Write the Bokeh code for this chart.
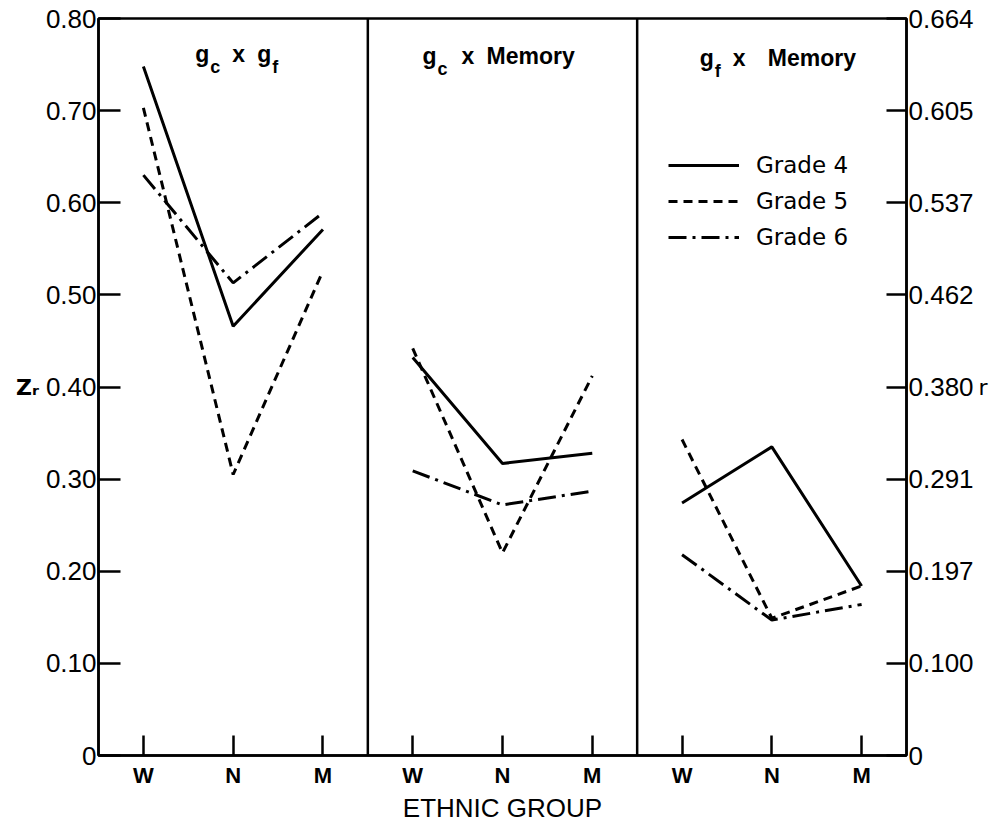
from bokeh.plotting import figure
from bokeh.models import (Range1d, LinearAxis, FixedTicker, Span, Legend,
                          LegendItem, ColumnDataSource)
from bokeh.core.properties import value
from bokeh.embed import file_html
from bokeh.resources import INLINE

# ---------------- data ----------------
groups = ["W", "N", "M"]
panels = ["gc x gf", "gc x Memory", "gf x Memory"]
grades = ["Grade 4", "Grade 5", "Grade 6"]

# Z_r values, order W, N, M
grade4_gc_gf = [0.748, 0.466, 0.571]
grade5_gc_gf = [0.703, 0.305, 0.526]
grade6_gc_gf = [0.630, 0.513, 0.589]

grade4_gc_mem = [0.432, 0.317, 0.328]
grade5_gc_mem = [0.442, 0.220, 0.412]
grade6_gc_mem = [0.309, 0.272, 0.287]

grade4_gf_mem = [0.274, 0.335, 0.184]
grade5_gf_mem = [0.343, 0.149, 0.184]
grade6_gf_mem = [0.218, 0.147, 0.164]

series = [
    [grade4_gc_gf, grade5_gc_gf, grade6_gc_gf],
    [grade4_gc_mem, grade5_gc_mem, grade6_gc_mem],
    [grade4_gf_mem, grade5_gf_mem, grade6_gf_mem],
]

z_ticks = [0.0, 0.1, 0.2, 0.3, 0.4, 0.5, 0.6, 0.7, 0.8]
z_labels = ["0", "0.10", "0.20", "0.30", "0.40", "0.50", "0.60", "0.70", "0.80"]
r_labels = ["0", "0.100", "0.197", "0.291", "0.380", "0.462", "0.537", "0.605", "0.664"]

# panel titles: (text, is_subscript)
title_parts = [
    [("g", False), ("c", True), ("x", False), ("g", False), ("f", True)],
    [("g", False), ("c", True), ("x", False), ("Memory", False)],
    [("g", False), ("f", True), ("x", False), ("Memory", False)],
]

# ---------------- style ----------------
title_dx = [[-38, -23, -1, 24, 39], [-80, -65, -41, -16], [-72, -57, -39, -4]]
title_base = [35, 37, 39]
dashes = ["solid", "9 6", "18 6 3 6"]
LW = 3
NUM_FONT = "Liberation Sans"
TXT_FONT = "DejaVu Sans"

n = len(groups)
np_ = len(panels)

p = figure(width=994, height=825,
           x_range=Range1d(0, n * np_), y_range=Range1d(z_ticks[0], z_ticks[-1]),
           output_backend="svg", toolbar_location=None,
           min_border_left=98, min_border_right=88, min_border_top=18,
           min_border_bottom=70)
p.grid.visible = False
p.outline_line_color = "black"
p.outline_line_width = 2.5
p.background_fill_color = "white"
p.border_fill_color = "white"

# ---- axes ----
xticks = [i * n + j + 0.5 for i in range(np_) for j in range(n)]
xa = p.xaxis[0]
xa.ticker = FixedTicker(ticks=xticks)
xa.major_label_overrides = {t: groups[k % n] for k, t in enumerate(xticks)}
xa.major_tick_in = 20
xa.major_tick_out = 0
xa.minor_tick_line_color = None
xa.axis_line_width = 2.5
xa.major_tick_line_width = 2.5
xa.major_label_text_font = NUM_FONT
xa.major_label_text_font_style = "bold"
xa.major_label_text_font_size = "22px"
xa.major_label_text_color = "black"
xa.major_label_standoff = 7
xa.axis_label = "ETHNIC GROUP"
xa.axis_label_text_font = NUM_FONT
xa.axis_label_text_font_style = "normal"
xa.axis_label_text_font_size = "26px"
xa.axis_label_text_color = "black"
xa.axis_label_standoff = 2

ya = p.yaxis[0]
ya.ticker = FixedTicker(ticks=z_ticks)
ya.major_label_overrides = dict(zip(z_ticks, z_labels))
ya.major_tick_in = 22
ya.major_tick_out = 0
ya.minor_tick_line_color = None
ya.axis_line_width = 2.5
ya.major_tick_line_width = 2.5
ya.major_label_text_font = NUM_FONT
ya.major_label_text_font_size = "26px"
ya.major_label_text_color = "black"
ya.major_label_standoff = 2
ya.axis_label = "Z\u1d63"
ya.axis_label_orientation = "horizontal"
ya.axis_label_text_font = TXT_FONT
ya.axis_label_text_font_style = "bold"
ya.axis_label_text_font_size = "22px"
ya.axis_label_text_color = "black"
ya.axis_label_standoff = 4

ra = LinearAxis(ticker=FixedTicker(ticks=z_ticks))
ra.major_label_overrides = dict(zip(z_ticks, r_labels))
ra.major_tick_in = 20
ra.major_tick_out = 0
ra.minor_tick_line_color = None
ra.axis_line_width = 2.5
ra.major_tick_line_width = 2.5
ra.major_label_text_font = NUM_FONT
ra.major_label_text_font_size = "26px"
ra.major_label_text_color = "black"
ra.major_label_standoff = 2
ra.axis_label = "r"
ra.axis_label_orientation = "horizontal"
ra.axis_label_text_font = TXT_FONT
ra.axis_label_text_font_style = "normal"
ra.axis_label_text_font_size = "22px"
ra.axis_label_text_color = "black"
ra.axis_label_standoff = 2
p.add_layout(ra, "right")

# panel dividers
for i in range(1, np_):
    p.add_layout(Span(location=i * n, dimension="height",
                      line_color="black", line_width=2.5))

# ---- lines ----
legend_renderers = [None] * len(grades)
for i in range(np_):
    xs = [i * n + j + 0.5 for j in range(n)]
    for g in range(len(grades)):
        r = p.line(xs, series[i][g], line_color="black", line_width=LW,
                   line_dash=dashes[g])
        if i == 0:
            legend_renderers[g] = r

legend = Legend(items=[LegendItem(label=grades[g], renderers=[legend_renderers[g]])
                       for g in range(len(grades))],
                location=(570, 503), orientation="vertical",
                glyph_width=71, glyph_height=30, label_height=30,
                label_standoff=17, spacing=6, padding=0, margin=0,
                border_line_color=None, background_fill_alpha=0,
                label_text_font=TXT_FONT, label_text_font_size="23px",
                label_text_color="black")
p.add_layout(legend)

# ---- panel titles ----
main = dict(x=[], y=[], text=[], xo=[], yo=[])
sub = dict(x=[], y=[], text=[], xo=[], yo=[])
for i, parts in enumerate(title_parts):
    cx = i * n + n / 2
    for k, (txt, is_sub) in enumerate(parts):
        d = sub if is_sub else main
        d["x"].append(cx)
        d["y"].append(z_ticks[-1])
        d["text"].append(txt)
        d["xo"].append(title_dx[i][k])
        d["yo"].append(title_base[i] + (13 if is_sub else 0))

p.text(x="x", y="y", text="text", x_offset="xo", y_offset="yo",
       source=ColumnDataSource(main), text_align="left",
       text_baseline="alphabetic", text_font=value(NUM_FONT),
       text_font_style="bold", text_font_size="23px", text_color="black")
p.text(x="x", y="y", text="text", x_offset="xo", y_offset="yo",
       source=ColumnDataSource(sub), text_align="left",
       text_baseline="alphabetic", text_font=value(NUM_FONT),
       text_font_style="bold", text_font_size="18px", text_color="black")

open("out.html", "w").write(file_html(p, INLINE))
